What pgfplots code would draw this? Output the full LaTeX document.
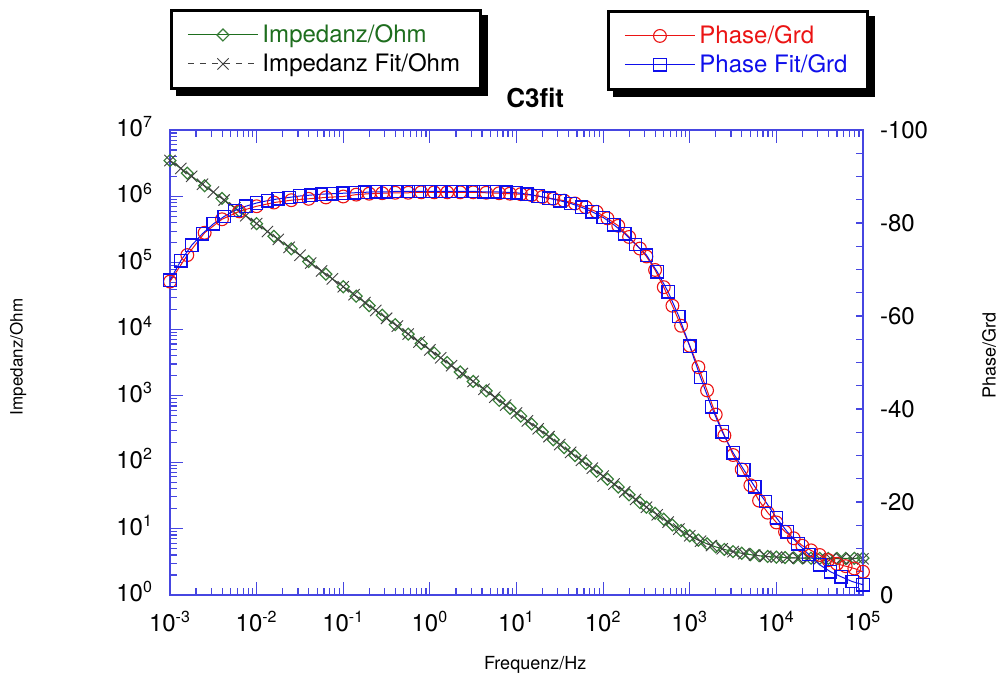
\documentclass[border=0pt]{standalone}
\usepackage{fontspec}
\setmainfont{TeX Gyre Heros}
\usepackage{pgfplots}
\usepackage{pgfplotstable}
\pgfplotsset{compat=1.18}

\definecolor{axblue}{RGB}{70,70,225}
\definecolor{impgreen}{RGB}{30,110,30}
\definecolor{mkgreen}{RGB}{55,125,55}
\definecolor{phred}{RGB}{235,20,20}
\definecolor{phblue}{RGB}{15,15,235}

\pgfplotstableread{
f z ph
0.001 3.467e6 -67.4
0.0015849 2.239e6 -73.1
0.0025119 1.445e6 -77.9
0.0039811 9.33e5 -80.8
0.0063096 6.03e5 -82.5
0.01 3.89e5 -83.6
0.015849 2.51e5 -84.4
0.025119 1.622e5 -84.9
0.039811 1.047e5 -85.2
0.063096 6.76e4 -85.5
0.1 4.37e4 -85.7
0.14125 3.145e4 -86.1
0.19953 2.265e4 -86.3
0.28184 1.632e4 -86.4
0.39811 1.175e4 -86.5
0.56234 8460 -86.5
0.79433 6100 -86.6
1.1220 4390 -86.6
1.5849 3160 -86.6
2.2387 2278 -86.6
3.1623 1641 -86.6
4.4668 1182 -86.5
6.3096 851 -86.4
8.4140 647.5 -86.3
11.220 492.6 -86.2
14.962 374.8 -86.0
19.953 285.1 -85.6
26.607 216.9 -85.2
35.481 165.0 -84.8
47.315 125.6 -84.2
63.096 95.5 -83.4
84.140 72.7 -82.4
112.20 55.3 -81.0
149.62 42.1 -79.4
199.53 32.2 -77.0
266.07 24.6 -74.5
316.23 20.96 -72.8
398.11 17.0 -69.9
501.19 13.8 -66.2
630.96 11.3 -62.2
794.33 9.35 -57.9
1000 7.8 -53.6
1258.9 6.7 -49.0
1584.9 5.9 -44.0
1995.3 5.3 -38.8
2511.9 4.85 -34.3
3162.3 4.5 -30.1
3981.1 4.25 -27.0
5011.9 4.05 -23.6
6309.6 3.9 -20.3
7943.3 3.8 -17.7
10000 3.72 -15.6
12589 3.66 -13.6
15849 3.62 -12.2
19953 3.6 -10.6
25119 3.58 -9.6
31623 3.56 -8.6
39811 3.55 -7.5
50119 3.54 -6.7
63096 3.55 -6.2
79433 3.56 -5.7
100000 3.6 -5.0
}\meas

\pgfplotstableread{
f z ph
0.001 3.467e6 -67.7
0.0013335 2.638e6 -71.9
0.0017783 2.007e6 -75.2
0.0023714 1.527e6 -77.7
0.0031623 1.161e6 -79.8
0.004217 8.837e5 -81.4
0.0056234 6.723e5 -82.7
0.0074989 5.115e5 -83.6
0.01 3.89e5 -84.3
0.013335 2.96e5 -84.8
0.017783 2.252e5 -85.2
0.023714 1.713e5 -85.5
0.031623 1.303e5 -85.8
0.04217 9.914e4 -86.0
0.056234 7.543e4 -86.2
0.074989 5.739e4 -86.3
0.1 4.365e4 -86.4
0.13335 3.321e4 -86.5
0.17783 2.527e4 -86.6
0.23714 1.922e4 -86.7
0.31623 1.462e4 -86.7
0.4217 1.113e4 -86.8
0.56234 8465 -86.8
0.74989 6440 -86.8
1 4898 -86.8
1.3335 3726 -86.8
1.7783 2835 -86.8
2.3714 2157 -86.8
3.1623 1641 -86.8
4.217 1248 -86.7
5.6234 949.6 -86.7
7.4989 722.4 -86.6
10 549.5 -86.5
13.335 418.1 -86.2
17.783 318.1 -85.8
23.714 242.0 -85.3
31.623 184.1 -84.8
42.17 140.1 -84.2
56.234 106.5 -83.4
74.989 81.06 -82.4
100 61.7 -81.2
133.35 46.9 -79.6
177.83 35.7 -77.7
237.14 27.4 -75.4
316.23 20.96 -73.1
421.7 16.1 -69.5
562.34 12.5 -65.2
749.89 9.8 -59.9
1000 7.8 -53.5
1333.5 6.45 -46.8
1778.3 5.55 -40.5
2371.4 4.95 -35.1
3162.3 4.5 -30.6
4217 4.2 -26.9
5623.4 3.98 -23.3
7498.9 3.82 -20.1
10000 3.72 -16.6
13335 3.65 -13.6
17783 3.6 -11.0
23714 3.57 -8.7
31623 3.55 -6.5
42170 3.53 -5.0
56234 3.52 -3.9
74989 3.51 -2.9
100000 3.5 -2.2
}\fit

\begin{document}
\begin{tikzpicture}
\path[use as bounding box] (-85pt,-42pt) rectangle (416.5pt,297.5pt);
\begin{axis}[
  width=346.5pt, height=232.5pt, scale only axis,
  at={(0pt,0pt)}, anchor=south west,
  xmode=log, xmin=0.001, xmax=100000,
  ymode=log, ymin=1, ymax=10000000,
  clip=false,
  axis line style={axblue, line width=0.6pt},
  tick style={axblue, line width=0.6pt},
  tick align=inside,
  tick label style={black, font=\fontsize{12}{14}\selectfont},
  xtick={0.001,0.01,0.1,1,10,100,1000,10000,100000},
  xticklabels={10\textsuperscript{-3},10\textsuperscript{-2},10\textsuperscript{-1},10\textsuperscript{0},10\textsuperscript{1},10\textsuperscript{2},10\textsuperscript{3},10\textsuperscript{4},10\textsuperscript{5}},
  minor xtick={0.002,0.003,0.004,0.005,0.006,0.007,0.008,0.009,
    0.02,0.03,0.04,0.05,0.06,0.07,0.08,0.09,
    0.2,0.3,0.4,0.5,0.6,0.7,0.8,0.9,
    2,3,4,5,6,7,8,9,20,30,40,50,60,70,80,90,
    200,300,400,500,600,700,800,900,
    2000,3000,4000,5000,6000,7000,8000,9000,
    20000,30000,40000,50000,60000,70000,80000,90000},
  ytick={1,10,100,1000,10000,100000,1000000,10000000},
  yticklabels={10\textsuperscript{0},10\textsuperscript{1},10\textsuperscript{2},10\textsuperscript{3},10\textsuperscript{4},10\textsuperscript{5},10\textsuperscript{6},10\textsuperscript{7}},
  minor ytick={2,3,4,5,6,7,8,9,20,30,40,50,60,70,80,90,
    200,300,400,500,600,700,800,900,
    2000,3000,4000,5000,6000,7000,8000,9000,
    20000,30000,40000,50000,60000,70000,80000,90000,
    200000,300000,400000,500000,600000,700000,800000,900000,
    2000000,3000000,4000000,5000000,6000000,7000000,8000000,9000000},
  major tick length=6.5pt, minor tick length=3.5pt,
  xtick pos=both, ytick pos=left,
  xticklabel style={yshift=-4.5pt},
  yticklabel style={xshift=-5pt, yshift=1.7pt},
  xlabel={Frequenz/Hz}, ylabel={Impedanz/Ohm},
  xlabel style={at={(axis description cs:0.527,-0.1505)}, anchor=center, font=\fontsize{9}{10}\selectfont},
  ylabel style={at={(axis description cs:-0.2193,0.512)}, anchor=center, font=\fontsize{8.5}{10}\selectfont},
  title={C3fit},
  title style={at={(axis description cs:0.527,1.0516)}, anchor=base, yshift=-7pt, font=\fontsize{13}{15}\selectfont\bfseries},
  legend cell align=left,
  legend image code/.code={\draw[mark repeat=2,mark phase=2,#1] plot coordinates {(0pt,0pt) (17.5pt,0pt) (35pt,0pt)};},
  legend style={draw=black, line width=1.5pt, fill=white, name=legA,
    inner xsep=8pt, inner ysep=5pt, font=\fontsize{12}{14}\selectfont,
    at={(axis description cs:0,1.2602)}, anchor=north west},
]
\addplot[impgreen, line width=0.5pt, mark=square, mark size=2.1pt,
  mark options={solid, rotate=45, mkgreen, line width=0.6pt}] table[x=f,y=z]{\meas};
\addlegendentry{\textcolor{impgreen}{Impedanz/Ohm}}
\addplot[black!75, line width=0.45pt, dash pattern=on 3pt off 3pt, mark=x, mark size=4pt,
  mark options={solid, line width=0.45pt}] table[x=f,y=z]{\fit};
\addlegendentry{Impedanz Fit/Ohm}
\end{axis}

\begin{axis}[
  width=346.5pt, height=232.5pt, scale only axis,
  at={(0pt,0pt)}, anchor=south west,
  xmode=log, xmin=0.001, xmax=100000,
  clip=false,
  axis x line=none, axis y line*=right,
  axis line style={axblue, line width=0.6pt},
  tick style={axblue, line width=0.6pt},
  tick align=inside,
  tick label style={black, font=\fontsize{12}{14}\selectfont},
  ymin=-100, ymax=0, y dir=reverse,
  ytick={-100,-80,-60,-40,-20,0},
  yticklabels={-100,-80,-60,-40,-20,0},
  minor ytick={-95,-90,-85,-75,-70,-65,-55,-50,-45,-35,-30,-25,-15,-10,-5},
  major tick length=3.5pt, minor tick length=3.5pt,
  ytick pos=right,
  yticklabel style={xshift=5pt},
  ylabel={Phase/Grd},
  ylabel style={at={(axis description cs:1.1818,0.516)}, anchor=center, font=\fontsize{9}{10}\selectfont},
  legend cell align=left,
  legend image code/.code={\draw[mark repeat=2,mark phase=2,#1] plot coordinates {(0pt,0pt) (17.5pt,0pt) (35pt,0pt)};},
  legend style={draw=black, line width=1.5pt, fill=white, name=legB,
    inner xsep=8pt, inner ysep=5pt, font=\fontsize{12}{14}\selectfont,
    at={(axis description cs:1.0087,1.2581)}, anchor=north east},
]
\addplot[phred, line width=0.5pt, mark=o, mark size=3.2pt,
  mark options={solid, line width=0.55pt}] table[x=f,y=ph]{\meas};
\addlegendentry{\textcolor{phred}{Phase/Grd}}
\addplot[phblue, line width=0.5pt, mark=square, mark size=3.1pt,
  mark options={solid, line width=0.65pt}] table[x=f,y=ph]{\fit};
\addlegendentry{\textcolor{phblue}{Phase Fit/Grd}}
\end{axis}
% legend drop shadows
\foreach \L in {legA,legB}{
  \fill[black] ([yshift=-3pt]\L.north east) rectangle ([xshift=3pt,yshift=-3pt]\L.south east);
  \fill[black] ([xshift=3pt]\L.south west) rectangle ([xshift=3pt,yshift=-3pt]\L.south east);
}
\end{tikzpicture}
\end{document}
